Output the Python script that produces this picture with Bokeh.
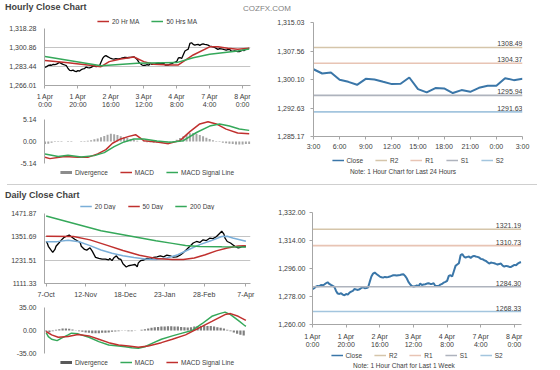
from bokeh.plotting import figure
from bokeh.models import Legend, LegendItem, FixedTicker, NumeralTickFormatter, Div
from bokeh.layouts import column, row
from bokeh.core.properties import value
from bokeh.embed import file_html
from bokeh.resources import INLINE

FONT = "Liberation Sans"
TXT = "#404040"
AXIS = "#a6a6a6"
GRID = "#c4c4c4"
RED = "#c0302e"
GREEN = "#35a85a"
LBLUE = "#7aaed8"
CLOSE_BLUE = "#3a76a8"
LEVEL_COLORS = ["#d5c5aa", "#e8c4b4", "#aeb3bd", "#a3c5de"]

TITLE_HOURLY = "Hourly Close Chart"
TITLE_DAILY = "Daily Close Chart"
BRAND = "COZFX.COM"
NOTE_DAY = "Note: 1 Hour Chart for Last 24 Hours"
NOTE_WEEK = "Note: 1 Hour Chart for Last 1 Week"

# ---------------- hourly, last week ----------------
week_close = [
    1282.65, 1283.30, 1284.37, 1284.80, 1284.58, 1285.44, 1285.23, 1285.66, 1286.52, 1287.16,
    1286.09, 1285.44, 1284.80, 1284.15, 1281.58, 1279.86, 1279.65, 1280.08, 1279.22, 1278.79,
    1279.65, 1279.22, 1280.51, 1281.15, 1281.58, 1282.87, 1282.44, 1282.22, 1282.65, 1283.51,
    1283.94, 1283.30, 1283.51, 1283.73, 1287.37, 1290.81, 1292.74, 1293.38, 1292.52, 1291.67,
    1290.81, 1290.38, 1290.16, 1290.59, 1290.38, 1290.59, 1290.81, 1291.24, 1291.67, 1291.67,
    1291.45, 1291.67, 1291.88, 1292.10, 1292.31, 1291.24, 1289.73, 1287.37, 1285.87, 1284.80,
    1284.37, 1284.58, 1285.23, 1284.58, 1286.30, 1285.44, 1285.66, 1285.87, 1286.30, 1286.52,
    1286.09, 1286.09, 1286.52, 1284.80, 1284.80, 1284.80, 1285.66, 1286.09, 1286.95, 1287.37,
    1288.02, 1291.24, 1291.67, 1290.81, 1294.24, 1297.68, 1298.54, 1299.39, 1304.55, 1305.19,
    1303.69, 1303.04, 1303.47, 1303.69, 1302.83, 1303.69, 1304.12, 1303.69, 1303.47, 1303.04,
    1302.18, 1301.97, 1301.32, 1300.90, 1300.04, 1299.18, 1299.82, 1299.61, 1299.39, 1298.96,
    1298.54, 1298.96, 1299.18, 1297.89, 1297.25, 1297.68, 1297.46, 1297.03, 1297.03, 1297.68,
    1298.32, 1298.10, 1299.18, 1299.82, 1300.04]
week_idx = list(range(len(week_close)))
week_ticks = [0, 20, 40, 60, 80, 100, 120]
week_tick_labels = ["1 Apr\n0:00", "1 Apr\n20:00", "2 Apr\n16:00", "3 Apr\n12:00",
                    "4 Apr\n8:00", "7 Apr\n4:00", "8 Apr\n0:00"]

ma20h_idx = [0, 14, 26, 34, 39, 46, 54, 60, 66, 76, 81, 90, 100, 105, 111, 117, 124]
ma20h_val = [1289.0, 1286.9, 1284.9, 1283.3, 1287.9, 1290.3, 1292.1, 1287.9, 1285.5, 1284.9,
             1284.9, 1294.0, 1301.5, 1301.5, 1300.1, 1299.2, 1300.1]
ma50h_idx = [0, 34, 56, 80, 90, 100, 117, 124]
ma50h_val = [1292.6, 1284.2, 1286.4, 1287.0, 1291.5, 1294.6, 1297.6, 1299.4]
tl_yticks = [1266.01, 1283.44, 1300.86, 1318.28]

macd_h_idx = [0, 3, 12, 20, 26, 32, 37, 41, 46, 51, 55, 60, 68, 75, 82, 88, 94, 99, 104, 110, 117, 124]
macd_h_val = [-3.7, -4.0, -3.5, -3.7, -3.7, -2.9, -1.9, -0.4, 0.6, 1.2, 1.6, 0.2, -0.1, -0.5,
              0.2, 2.3, 4.1, 4.6, 4.1, 2.9, 2.0, 1.8]
sig_h_idx = [0, 8, 14, 22, 30, 36, 42, 48, 54, 60, 68, 76, 84, 92, 100, 106, 112, 118, 124]
sig_h_val = [-2.9, -3.5, -3.2, -3.6, -3.3, -2.6, -1.2, -0.1, 0.6, 0.6, 0.1, -0.2, 0.2, 2.1,
             3.6, 4.1, 3.6, 2.9, 2.6]
div_h_idx = list(range(0, 125, 2))
div_h_val = [-0.6, -0.5, -0.3, -0.1, 0.1, 0.1, 0.0, -0.1, -0.1, 0.0,
             0.0, 0.1, 0.1, 0.2, 0.3, 0.5, 0.7, 1.0, 1.3, 1.6,
             1.8, 1.7, 1.5, 1.2, 1.0, 0.8, 0.6, 0.4, 0.2, 0.0,
             -0.1, -0.2, -0.2, -0.3, -0.3, -0.3, -0.2, -0.2, -0.1, 0.1,
             0.4, 0.8, 1.2, 1.6, 1.9, 2.0, 1.8, 1.5, 1.2, 0.9,
             0.6, 0.3, 0.1, -0.1, -0.3, -0.4, -0.5, -0.6, -0.7, -0.7,
             -0.7, -0.6, -0.6]
macd_h_ticks = [-5.14, 0.0, 5.14]

# ---------------- hourly, last 24 hours ----------------
day_close = [1302.79, 1301.67, 1301.93, 1300.01, 1299.49, 1298.71, 1300.27, 1300.11, 1299.49,
             1298.89, 1298.97, 1300.63, 1297.59, 1296.73, 1297.85, 1297.77, 1296.55, 1297.33,
             1296.88, 1297.93, 1298.45, 1298.45, 1300.45, 1299.93, 1300.27]
day_idx = list(range(len(day_close)))
day_ticks = [0, 3, 6, 9, 12, 15, 18, 21, 24]
day_tick_labels = ["3:00", "6:00", "9:00", "12:00", "15:00", "18:00", "21:00", "0:00", "3:00"]
tr_yticks = [1285.17, 1292.63, 1300.10, 1307.56, 1315.03]
level_names = ["R2", "R1", "S1", "S2"]
day_levels = [1308.49, 1304.37, 1295.94, 1291.63]
week_levels = [1321.19, 1310.73, 1284.30, 1268.33]
br_yticks = [1260.0, 1278.0, 1296.0, 1314.0, 1332.0]

# ---------------- daily ----------------
daily_x = [0, 1, 2, 4, 6, 8, 9, 12, 14, 16,
           19, 21, 23, 26, 28, 31, 32, 35, 37, 40,
           42, 45, 48, 51, 54, 57, 58, 60, 62, 64,
           66, 68, 70, 73, 75, 78, 81, 83, 84, 86,
           89, 92, 95, 98, 101, 104, 107, 110, 113, 116,
           119, 122, 125, 128, 131, 134, 137, 140, 143, 146,
           149, 152, 155, 158, 160, 162, 163, 165, 168, 170,
           172, 175, 177, 179, 182]
daily_close = [1327.7, 1319.8, 1303.0, 1286.7, 1271.9, 1286.7, 1303.0, 1322.7, 1336.1, 1347.4,
               1355.8, 1360.8, 1352.4, 1339.5, 1332.6, 1322.7, 1303.0, 1286.7, 1283.2, 1295.1,
               1278.3, 1245.7, 1240.7, 1237.3, 1237.3, 1232.4, 1240.7, 1228.9, 1245.7, 1253.6,
               1238.8, 1235.8, 1212.6, 1196.3, 1202.7, 1206.2, 1209.2, 1197.8, 1217.5, 1228.9,
               1232.4, 1240.7, 1237.3, 1245.7, 1248.7, 1253.6, 1248.7, 1257.1, 1253.6, 1247.2,
               1248.7, 1257.1, 1270.4, 1286.7, 1303.0, 1319.8, 1327.7, 1322.7, 1336.1, 1332.6,
               1344.5, 1342.5, 1352.4, 1369.2, 1380.5, 1365.7, 1344.5, 1327.7, 1319.8, 1311.4,
               1303.0, 1295.1, 1298.0, 1303.0, 1301.0]
daily_ticks = [0, 36, 72, 108, 144, 182]
daily_tick_labels = ["7-Oct", "12-Nov", "18-Dec", "23-Jan", "28-Feb", "7-Apr"]
bl_yticks = [1111.33, 1231.51, 1351.69, 1471.87]

ma20d_x = [0, 10, 20, 30, 40, 50, 60, 70, 80, 90, 100, 110, 120, 130, 140, 150, 160, 165, 170, 182]
ma20d_v = [1327.0, 1327.0, 1333.6, 1326.0, 1306.5, 1284.2, 1267.0, 1254.6, 1244.7, 1237.3,
           1234.8, 1242.2, 1259.5, 1286.7, 1311.4, 1331.1, 1353.3, 1354.3, 1346.0, 1328.7]
ma50d_x = [0, 25, 40, 55, 70, 85, 100, 115, 125, 135, 145, 155, 165, 175, 182]
ma50d_v = [1354.3, 1353.3, 1336.1, 1308.9, 1281.7, 1257.1, 1240.7, 1234.8, 1234.8, 1242.2,
           1259.5, 1279.3, 1294.1, 1304.0, 1306.4]
ma200d_x = [0, 50, 100, 115, 127, 140, 160, 182]
ma200d_v = [1459.5, 1383.0, 1331.0, 1318.0, 1307.0, 1302.0, 1300.0, 1299.0]

macd_d_x = [0, 2, 5, 10, 14, 20, 23, 29, 39, 48, 57, 66, 72, 78, 84, 90, 98, 105, 115, 124,
            133, 142, 151, 158, 163, 168, 175, 180, 182]
macd_d_v = [-3.1, -9.2, -13.3, -15.4, -11.7, -6.6, -4.0, -5.1, -10.2, -16.9, -22.0, -23.6,
            -24.7, -26.2, -27.1, -24.7, -18.5, -13.3, -8.2, -4.0, 0.0, 10.3, 21.6, 25.7, 28.0,
            24.2, 15.4, 8.8, 6.2]
sig_d_x = [0, 5, 11, 20, 29, 39, 48, 57, 66, 75, 84, 93, 105, 115, 127, 139, 151, 163, 168, 175, 182]
sig_d_v = [-1.5, -6.6, -10.2, -9.2, -6.2, -8.2, -13.3, -18.5, -22.0, -23.6, -25.6, -23.6,
           -18.5, -13.3, -6.6, 3.7, 13.9, 24.2, 25.7, 21.6, 15.4]
div_d_x = list(range(0, 181, 3))
div_d_v = [-1.5, -2.5, -1.0, 1.0, 2.0, 3.0, 3.0, 2.5, 1.5, 0.5,
           -1.0, -2.0, -3.0, -3.5, -4.0, -4.0, -4.0, -3.5, -3.5, -3.0,
           -2.0, -1.5, -1.0, -0.5, -0.5, -1.0, -1.0, -0.5, 0.0, 1.0,
           2.0, 3.0, 4.0, 5.0, 5.5, 6.0, 6.0, 6.5, 6.5, 6.0,
           6.0, 5.5, 5.0, 4.5, 5.0, 6.0, 7.0, 7.0, 7.5, 7.0,
           7.0, 6.0, 5.0, 4.0, 3.0, 1.0, -1.0, -3.0, -5.0, -6.5,
           -7.5]
macd_d_ticks = [-35.0, 0.0, 35.0]


def base_fig(w, h, xr, yr, ml, mr, mt, mb):
    p = figure(width=w, height=h, x_range=xr, y_range=yr, output_backend="svg",
               toolbar_location=None, min_border_left=ml, min_border_right=mr,
               min_border_top=mt, min_border_bottom=mb)
    p.outline_line_color = None
    p.background_fill_color = "white"
    p.border_fill_color = "white"
    p.xgrid.visible = False
    p.ygrid.grid_line_color = GRID
    for ax in p.axis:
        ax.axis_line_color = AXIS
        ax.major_tick_line_color = AXIS
        ax.minor_tick_line_color = None
        ax.major_tick_in = 0
        ax.major_tick_out = 3
        ax.major_label_text_font = FONT
        ax.major_label_text_font_size = "7px"
        ax.major_label_text_color = TXT
    return p


def set_x(p, ticks, labels, standoff):
    p.xaxis.ticker = FixedTicker(ticks=ticks)
    p.xaxis.major_label_overrides = dict(zip(ticks, labels))
    p.xaxis.major_label_standoff = standoff


def set_y(p, ticks, fmt, standoff, tick_out):
    p.yaxis.ticker = FixedTicker(ticks=ticks)
    p.yaxis.formatter = NumeralTickFormatter(format=fmt)
    p.yaxis.major_label_standoff = standoff
    p.yaxis.major_tick_out = tick_out


def legend_strip(w, h, spec, L, R, m):
    # a thin legend-only canvas; its ranges lie outside every series, so only the legend shows
    s = figure(width=w, height=h, x_range=(-20, -10), y_range=(-20, -10), output_backend="svg",
               toolbar_location=None, min_border_left=L, min_border_right=R,
               min_border_top=0, min_border_bottom=0)
    s.axis.visible = False
    s.grid.visible = False
    s.outline_line_color = None
    s.background_fill_color = "white"
    s.border_fill_color = "white"
    items = []
    for label, xs, ys, color, lw in spec:
        r = s.line(xs, ys, line_color=color, line_width=lw)
        items.append(LegendItem(label=label, renderers=[r]))
    s.add_layout(Legend(items=items, orientation="horizontal", location="top_center",
                        label_text_font=FONT, label_text_font_size="6.5px", label_text_color=TXT,
                        glyph_width=12, glyph_height=8, label_height=8, label_width=0,
                        label_standoff=3, spacing=12, padding=0, margin=m,
                        border_line_color=None, background_fill_alpha=0), "center")
    return s


def note_div(text, w, h, center_w, top):
    return Div(text=(
        f'<div style="position:relative;width:{w}px;height:{h}px;font-family:\'Liberation Sans\',Arial,sans-serif;">'
        f'<div style="position:absolute;left:0px;top:{top}px;width:{center_w}px;text-align:center;'
        f'font-size:6.5px;line-height:8px;color:{TXT};white-space:nowrap;">{text}</div></div>'),
        width=w, height=h, margin=0)


# ---------- top-left price ----------
tlp_leg = legend_strip(262, 9, [("20 Hr MA", ma20h_idx, ma20h_val, RED, 1.5),
                                ("50 Hrs MA", ma50h_idx, ma50h_val, GREEN, 1.5)], 13, 0, 1)
tlp = base_fig(262, 85, (-0.3, 124.8), (tl_yticks[0], tl_yticks[-1]), 44, 12, 3, 24)
set_x(tlp, week_ticks, week_tick_labels, 4)
set_y(tlp, tl_yticks, "0,0.00", 8, 0)
tlp.line(week_idx, week_close, line_color="black", line_width=1.3)
tlp.line(ma20h_idx, ma20h_val, line_color=RED, line_width=1.5)
tlp.line(ma50h_idx, ma50h_val, line_color=GREEN, line_width=1.5)

# ---------- top-left MACD ----------
tlm = base_fig(262, 58, (-0.3, 124.8), (macd_h_ticks[0], macd_h_ticks[-1]), 44, 12, 9, 5)
tlm.xaxis.visible = False
set_y(tlm, macd_h_ticks, "0.00", 8, 0)
tlm.ygrid.ticker = FixedTicker(ticks=[macd_h_ticks[0], macd_h_ticks[-1]])
tlm.vbar(x=div_h_idx, top=div_h_val, bottom=0, width=1.2, fill_color="#a6a6a6", line_color=None)
tlm.line(macd_h_idx, macd_h_val, line_color=RED, line_width=1.5)
tlm.line(sig_h_idx, sig_h_val, line_color=GREEN, line_width=1.5)
tlm_leg = legend_strip(262, 14, [("Divergence", div_h_idx, div_h_val, "#8c8c8c", 3),
                                 ("MACD", macd_h_idx, macd_h_val, RED, 1.5),
                                 ("MACD Signal Line", sig_h_idx, sig_h_val, GREEN, 1.5)], 25, 0, 0)


def level_chart(w, h, xs, ys, levels, ticks, labels, yticks, xr, ml, mr, mt, mb, x_standoff, y_standoff):
    p = base_fig(w, h, xr, (yticks[0], yticks[-1]), ml, mr, mt, mb)
    p.ygrid.visible = False
    set_x(p, ticks, labels, x_standoff)
    set_y(p, yticks, "0,0.00", y_standoff, 3)
    p.line(xs, ys, line_color=CLOSE_BLUE, line_width=2)
    for v, c in zip(levels, LEVEL_COLORS):
        p.line([xs[0], xs[-1]], [v, v], line_color=c, line_width=1.6)
    p.text(x=[xs[-1]] * len(levels), y=levels, text=["%.2f" % v for v in levels],
           text_font=value(FONT), text_font_size="7px", text_color=TXT,
           text_align="right", text_baseline="bottom", y_offset=-1)
    return p


def level_spec(xs, ys, levels):
    spec = [("Close", xs, ys, CLOSE_BLUE, 1.5)]
    for n, v, c in zip(level_names, levels, LEVEL_COLORS):
        spec.append((n, [xs[0], xs[-1]], [v, v], c, 1.5))
    return spec


tr = level_chart(298, 136, day_idx, day_close, day_levels, day_ticks, day_tick_labels, tr_yticks,
                 (0, 24), 51, 38, 6, 15, 3, 6)
tr_leg = legend_strip(298, 14, level_spec(day_idx, day_close, day_levels), 1, 0, 4)
tr_note = note_div(NOTE_DAY, 298, 16, 282, 2)

# ---------- bottom-left daily ----------
blp_leg = legend_strip(262, 9, [("20 Day", ma20d_x, ma20d_v, LBLUE, 1.5),
                                ("50 Day", ma50d_x, ma50d_v, RED, 1.5),
                                ("200 Day", ma200d_x, ma200d_v, GREEN, 1.5)], 12, 0, 1)
blp = base_fig(262, 90, (-1.5, 186.2), (bl_yticks[0], bl_yticks[-1]), 44, 12, 3, 14)
set_x(blp, daily_ticks, daily_tick_labels, 4)
set_y(blp, bl_yticks, "0.00", 8, 0)
blp.line(daily_x, daily_close, line_color="black", line_width=1.3)
blp.line(ma20d_x, ma20d_v, line_color=LBLUE, line_width=1.5)
blp.line(ma50d_x, ma50d_v, line_color=RED, line_width=1.5)
blp.line(ma200d_x, ma200d_v, line_color=GREEN, line_width=1.5)

blm = base_fig(262, 57, (-1.5, 186.2), (macd_d_ticks[0], macd_d_ticks[-1]), 44, 12, 7, 4)
blm.xaxis.visible = False
set_y(blm, macd_d_ticks, "0.00", 8, 0)
blm.ygrid.ticker = FixedTicker(ticks=[macd_d_ticks[0], macd_d_ticks[-1]])
blm.vbar(x=div_d_x, top=div_d_v, bottom=0, width=2.0, fill_color="#7f7f7f", line_color=None)
blm.line(macd_d_x, macd_d_v, line_color=GREEN, line_width=1.5)
blm.line(sig_d_x, sig_d_v, line_color=RED, line_width=1.5)
blm_leg = legend_strip(262, 11, [("Divergence", div_d_x, div_d_v, "#595959", 3),
                                 ("MACD", macd_d_x, macd_d_v, GREEN, 1.5),
                                 ("MACD Signal Line", sig_d_x, sig_d_v, RED, 1.5)], 21, 0, 1)

br = level_chart(298, 150, week_idx, week_close, week_levels, week_ticks, week_tick_labels, br_yticks,
                 (0, 124.2), 50, 39, 11, 27, 5, 4)
br_leg = legend_strip(298, 8, level_spec(week_idx, week_close, week_levels), 0, 6, 0)
br_note = note_div(NOTE_WEEK, 298, 9, 284, 0)

FF = "font-family:'Liberation Sans',Arial,sans-serif;"
header = Div(text=(
    f'<div style="position:relative;width:560px;height:16px;{FF}">'
    f'<span style="position:absolute;left:5px;top:3px;font-size:9px;line-height:9px;font-weight:bold;color:#3f3f3f;white-space:nowrap;">{TITLE_HOURLY}</span>'
    f'<span style="position:absolute;left:243px;top:5px;font-size:8px;line-height:8px;color:#7f7f7f;white-space:nowrap;">{BRAND}</span>'
    '</div>'), width=560, height=16, margin=0)
mid = Div(text=(
    f'<div style="position:relative;width:560px;height:19px;{FF}">'
    '<div style="position:absolute;left:7px;top:2px;width:530px;height:0;border-top:1px solid #cfcfcf;"></div>'
    f'<span style="position:absolute;left:5px;top:9px;font-size:9px;line-height:9px;font-weight:bold;color:#3f3f3f;white-space:nowrap;">{TITLE_DAILY}</span>'
    '</div>'), width=560, height=19, margin=0)
footer = Div(text=(
    '<div style="position:relative;width:560px;height:2px;">'
    '<div style="position:absolute;left:7px;top:0px;width:530px;height:0;border-top:1px solid #cfcfcf;"></div>'
    '</div>'), width=560, height=2, margin=0)

row1 = row(column(tlp_leg, tlp, tlm, tlm_leg), column(tr, tr_leg, tr_note))
row2 = row(column(blp_leg, blp, blm, blm_leg), column(br, br_leg, br_note))
p = column(header, row1, mid, row2, footer,
           styles={"position": "absolute", "left": "0px", "top": "0px"})

open("out.html", "w").write(file_html(p, INLINE))
